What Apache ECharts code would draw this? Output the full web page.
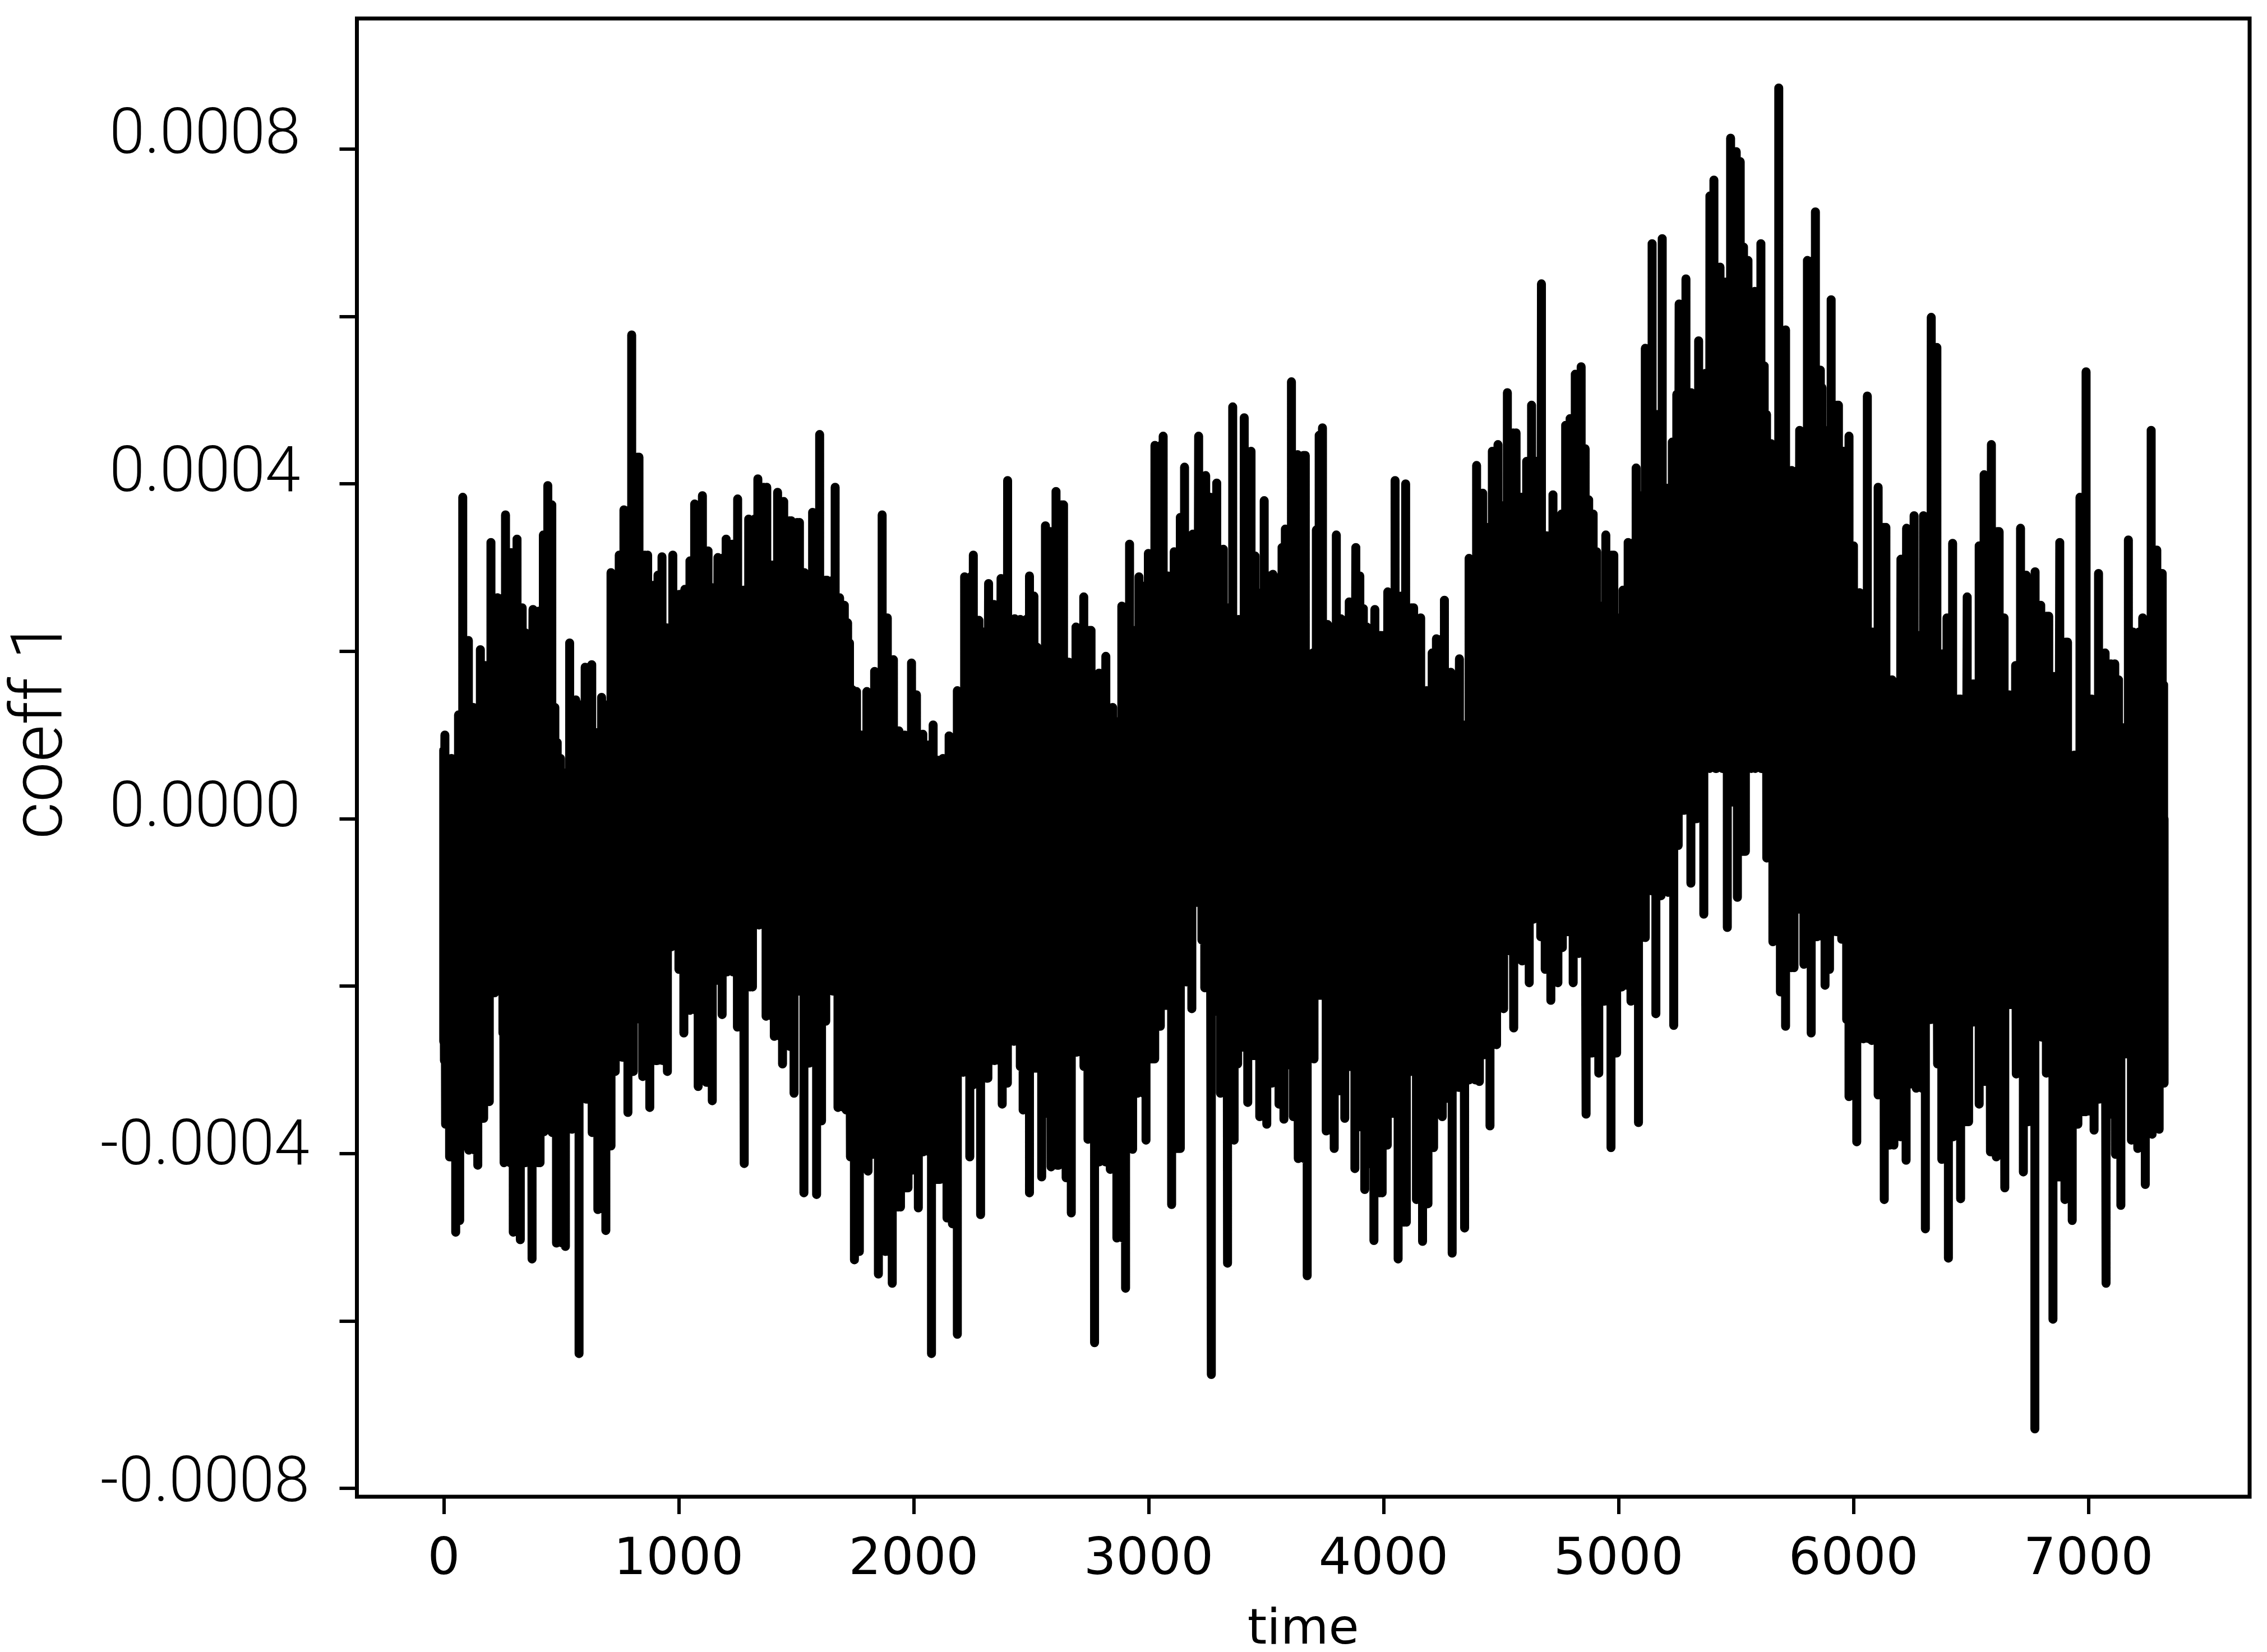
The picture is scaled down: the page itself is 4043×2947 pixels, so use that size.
<!DOCTYPE html>
<html>
<head>
<meta charset="utf-8">
<style>html,body{margin:0;padding:0;background:#fff}#chart{width:4043px;height:2947px}</style>
<script src="https://cdn.jsdelivr.net/npm/echarts@6/dist/echarts.min.js"></script>
</head>
<body>
<div id="chart"></div>
<script>
// Values. Coefficients are in units of 1e-5.
const upperTimes = [0,5,33,46,63,81,105,126,156,177,201,229,263,287,312,334,348,380,404,424,443,460,473,483,497,511,536,562,579,602,630,649,672,693,712,730,747,767,800,831,868,894,912,929,950,975,1003,1026,1048,1068,1101,1125,1145,1167,1202,1227,1251,1276,1298,1337,1375,1398,1421,1447,1479,1514,1535,1552,1570,1600,1631,1666,1685,1705,1719,1727,1740,1757,1778,1801,1834,1866,1888,1914,1937,1962,1991,2012,2039,2063,2083,2102,2125,2151,2174,
2186,2217,2254,2278,2299,2319,2342,2354,2372,2400,2430,2454,2493,2512,2525,2539,2561,2582,2606,2638,2661,2673,2691,2724,2755,2770,2789,2818,2847,2868,2886,2919,2941,2959,2981,2999,3027,3062,3083,3089,3109,3135,3153,3172,3188,3213,3243,3263,3290,3318,3334,3358,3383,3407,3436,3453,3464,3492,3513,3529,3549,3568,3582,3608,3634,3667,3683,3699,3714,3726,3740,3762,3772,3799,3818,3835,3854,3882,3899,3914,3929,3939,3963,
4000,4018,4049,4076,4094,4128,4158,4183,4207,4225,4259,4286,4298,4323,4342,4364,4396,4422,4436,4444,4463,4487,4506,4527,4564,4587,4609,4630,4651,4672,4694,4721,4742,4758,4775,4794,4816,4841,4858,4873,4892,4907,4923,4946,4980,5000,5019,5041,5075,5095,5114,
5143,5168,5186,5210,5229,5248,5258,5287,5309,5341,5370,5389,5406,5432,5454,5477,5501,5518,5532,5551,5563,5580,5606,5620,5630,5650,5682,5711,5737,5771,5804,5838,5859,5866,5881,5905,5936,5957,5981,6000,6007,6026,6059,6081,6105,6138,6164,6177,6202,6226,6258,6277,6298,6331,6355,6369,6381,6398,6422,6456,6484,6518,6535,6556,6587,6620,6641,6663,6690,6711,6735,6752,6773,6797,6831,6854,6878,6911,6940,6964,6990,7014,7043,7071,7112,7128,7143,7170,7190,7231,7252,7267,7291,7314,7320];
const upperCoeff = [8.2,10,7.2,6.1,12.4,38.4,21.3,13.3,20.2,18.3,33,26.4,36.3,31.8,33.4,25.2,22.2,25,24.8,33.9,39.8,37.5,13.3,9.1,7.2,5.5,21,14.2,13.6,18.1,18.4,10.3,14.5,13.6,29.4,25.2,31.5,36.9,57.8,43.2,31.5,27.9,29.1,31.3,22.8,31.5,26.8,27.4,30.8,37.6,38.6,32,27.6,31.2,33.4,32.8,38.2,27.3,35.8,40.6,39.6,30.3,39,37.9,35.6,35.4,29.4,27.9,36.6,45.9,28.5,39.6,26.4,25.5,23.4,21,15.4,15.2,10,15.2,17.6,36.3,24,19,10.5,10,18.6,14.8,10.1,8.8,11.2,7,7.2,9.9,7,
15.3,28.9,31.5,23.7,22.3,28.1,25.6,17.9,28.7,40.4,23.9,23.8,29,26.6,20.5,11.6,35,34.3,39.1,37.5,18.7,17.7,22.9,26.5,22.5,14.5,17.4,19.4,13.3,11.6,25.4,32.8,22.5,28.9,27.8,31.7,44.6,45.7,29,16.9,31.9,36,42,33.8,34,45.7,41,38.4,40.1,32.2,25.2,49.2,23.8,47.9,43.9,31.4,27,38,29,29.2,28.8,32.4,34.6,52.2,43.5,43.4,14.6,19.8,34.5,45.8,46.7,23.2,19.6,33.9,23.9,23.7,25.9,32.4,29,25.1,22.9,16,25,
21.9,27.1,40.4,26.6,40,25.2,24,15.3,19.8,21.5,26.1,17.5,14.1,19.1,11.2,31.1,42.2,38.9,26.3,34.8,43.9,44.7,37.4,50.9,46.1,38.4,42.7,49.4,42.7,63.9,33.8,38.7,31.9,36.4,47,47.8,53.1,54,44.2,38.1,36.4,31.9,25.4,33.9,31.5,24,27.3,33,41.9,38.6,56.2,
68.7,48.3,69.3,39.5,45,50.7,61.5,64.5,50.9,57.1,53.2,74.4,76.3,65.9,64.1,81.3,79.7,78.5,68.3,66.7,58.2,63,68.7,54.1,48.3,44.8,87.3,58.4,41.6,46.4,66.7,72.5,53.6,51.5,46.4,62,49.4,43.9,45.7,32.6,21.9,27,50.5,22.3,39.6,34.8,16.6,14.4,31,34.7,36.2,21.9,36.2,59.9,56.3,19.5,19.7,24,32.9,14.3,26.5,16.1,32.6,41.1,44.7,34.3,24,14.8,18.3,34.7,29.1,27,29.5,25.5,24.2,17,33,21.1,7.6,38.4,53.4,14.3,29.3,19.8,18.5,16.6,10.9,33.3,22.3,24,17.6,46.4,32.1,29.3,16];

const lowerTimes = [0,3,8,25,51,68,86,107,145,170,194,217,235,252,257,296,326,348,376,410,427,445,462,480,518,546,576,606,632,656,690,712,730,747,760,784,807,830,847,877,908,952,970,987,1001,1022,1048,1083,1101,1118,1143,1164,1185,1206,1250,1279,1314,1342,1372,1407,1442,1472,1491,1512,1533,1556,1587,1608,1626,1638,1656,1678,1713,1731,1748,1769,1783,1806,1827,1850,1880,1909,1944,1976,1993,2020,2041,2076,2112,2142,2165,2186,
2211,2239,2253,2285,2316,2344,2377,2399,2409,2427,2454,2466,2493,2519,2525,2545,2564,2585,2618,2640,2649,2671,2694,2710,2725,2742,2770,2791,2837,2865,2902,2932,2953,2989,3026,3050,3075,3098,3135,3160,3184,3209,3227,3239,3267,3290,3306,3336,3364,3379,3397,3422,3448,3473,3503,3525,3540,3555,3576,3599,3616,3637,3675,3704,3738,3756,3790,3813,3835,3856,3878,3902,3920,3942,3959,
3994,4016,4037,4062,4097,4116,4125,4140,4166,4189,4213,4231,4250,4272,4292,4319,4345,4365,4408,4430,4453,4481,4511,4526,4536,4554,4576,4590,4620,4639,4669,4688,4712,4742,4761,4785,4807,4831,4862,4888,4916,4941,4968,4992,5014,5035,5053,5085,5114,5138,5159,5181,5211,5235,5254,5280,5308,5333,5363,5417,5463,5485,5506,5540,5582,5631,
5657,5683,5689,5711,5747,5768,5789,5820,5845,5879,5898,5913,5926,5950,5971,5981,6014,6042,6078,6105,6131,6154,6172,6200,6224,6243,6255,6267,6306,6330,6346,6358,6376,6404,6425,6456,6490,6510,6535,6559,6583,6608,6626,6644,6666,6693,6723,6745,6772,6802,6821,6849,6875,6900,6931,6955,6989,7024,7046,7075,7097,7115,7138,7164,7183,7210,7242,7271,7301,7322];
const lowerCoeff = [-26.6,-28.9,-36.5,-40.4,-49.4,-48,-39.1,-39.6,-41.4,-35.8,-33.8,-20.8,-20,-25.6,-41.1,-49.4,-50.3,-41.1,-52.6,-41.1,-37.4,-29.2,-37.5,-50.7,-51.1,-37.1,-63.9,-33.5,-37.5,-46.7,-49.2,-39.1,-30.2,-23.6,-28.5,-35.1,-30.2,-23.9,-30.8,-34.5,-28.9,-30.2,-15.3,-10,-18,-25.6,-22.9,-32,-17,-31.5,-33.7,-19.3,-23.4,-18.3,-24.9,-41.2,-20.1,-12.7,-23.6,-26,-29.3,-27.2,-32.8,-20.6,-44.7,-29.2,-44.9,-36.1,-24.2,-13,-20.6,-34.5,-34.8,-40.4,-52.7,-51.7,-39.1,-42.1,-40.1,-54.4,-51.7,-55.5,-46.4,-44.1,-42,-46.5,-39.8,-63.9,-43.1,-47.7,-48.4,-61.6,
-30.3,-40.4,-31.8,-47.3,-31,-28.9,-34.1,-31.6,-20.8,-26.6,-29.6,-34.8,-44.7,-29.8,-28.3,-42.8,-35.2,-41.6,-41.4,-26.6,-42.9,-47.1,-27.9,-22.5,-29.6,-38.3,-62.6,-41,-41.9,-50.1,-56.1,-39.5,-32.8,-38.4,-28.7,-24.8,-22.3,-46.1,-39.4,-19.5,-22.7,-10,-14.5,-20.2,-66.4,-23,-32.8,-53.1,-38.4,-29.3,-27.3,-33.9,-28.3,-35.6,-36.5,-31.6,-30.9,-34.1,-35.9,-29.4,-35.6,-40.6,-54.6,-28.7,-21.1,-37.3,-39.4,-32.5,-35.8,-29.6,-41.8,-36.8,-44.3,-41.2,-50.4,
-44.7,-39,-35.2,-52.6,-48.2,-30.2,-28.7,-45.5,-50.5,-46,-39.3,-35.3,-35.6,-33.4,-51.9,-32.1,-48.9,-31.2,-31.4,-28.2,-36.7,-27,-22.7,-15.8,-12.2,-25,-14,-17,-19.6,-12,-14.1,-18,-21.7,-19.6,-15.4,-13.5,-19.6,-16.1,-35.3,-28,-30.4,-21.8,-39.3,-28,-20.1,-19.9,-21.8,-36.3,-14.2,-8.6,-23.3,-9.2,-8.8,-24.7,-3.2,1,-7.7,0,-11.4,6,-13,2,-9.4,-3.9,6,-4.7,
-14.7,-7.2,-20.7,-24.8,-17.8,-10.8,-17.4,-25.6,-14.1,-19.9,-18,-8.9,-13.5,-14.4,-24,-33.2,-38.6,-26.3,-26.5,-33,-45.5,-39,-39,-38,-40.8,-31.7,-21,-32.2,-49,-24,-23.4,-29.3,-40.7,-52.5,-38,-45.4,-36.2,-24.3,-34.1,-31.4,-39.8,-40.4,-31.7,-44.1,-22.2,-30.5,-42.2,-36.2,-72.9,-26.1,-30.4,-59.8,-42.8,-45.5,-48,-36.5,-35,-37.2,-33.5,-55.5,-35.3,-40.1,-46.2,-28.1,-38.4,-39.4,-43.7,-37.7,-37.1,-31.6];

// Middle of the solid band, per time span.
const bandStart = [0,5000,5300,5650];
const bandLevel = [0,5,25,0];

const xTickValues = [0,1000,2000,3000,4000,5000,6000,7000];
const yTickValues = [-0.0008,-0.0006,-0.0004,-0.0002,0,0.0002,0.0004,0.0006,0.0008];
const yLabelValues = [-0.0008,-0.0004,0,0.0004,0.0008];

const UNIT = 1e-5;
const PEN = 16;
const STEP = 30;   // time span one pen stroke covers

function bandAt(t){
  let lvl = bandLevel[0];
  for(let i=0;i<bandStart.length;i++){ if(t>=bandStart[i]) lvl = bandLevel[i]; }
  return lvl;
}
// Where two readings are further apart than a stroke, the lower one holds across the gap.
function strokes(times, vals, pick){
  const out = [];
  for(let i=0;i<times.length;i++){
    out.push([times[i], vals[i]]);
    if(i+1<times.length && times[i+1]-times[i]>STEP){
      const hold = pick(vals[i], vals[i+1]);
      for(let t=times[i]+STEP-5; t<times[i+1]; t+=STEP-5){ out.push([t, hold]); }
    }
  }
  return out;
}
const all = strokes(upperTimes, upperCoeff, Math.min)
  .concat(strokes(lowerTimes, lowerCoeff, Math.max))
  .sort((a,b)=>a[0]-b[0]);
const lineData = [];
all.forEach(([t,v])=>{
  const c = bandAt(t)*UNIT;
  lineData.push([t,c],[t,v*UNIT],[t,c]);
});

const labelLift = {'0.0008':21,'0.0004':15,'0.0000':15,'-0.0004':9,'-0.0008':5};
const liftKeys = Object.keys(labelLift);
const rich = {};
liftKeys.forEach((k,i)=>{
  rich['k'+i] = {fontFamily:'Roboto',fontWeight:300,fontSize:113,color:'#000',lineHeight:113,padding:[0,0,2*labelLift[k],0]};
});

const chart = echarts.init(document.getElementById('chart'),null,{renderer:'canvas'});
chart.setOption({
  animation:false,
  backgroundColor:'#fff',
  grid:{left:636.5,right:31,top:33,bottom:277,show:true,borderColor:'#000',borderWidth:7,backgroundColor:'#fff',containLabel:false,outerBoundsMode:'none'},
  xAxis:{
    type:'value',min:-369.5,max:7686,
    splitLine:{show:false},axisLine:{show:false,onZero:false},
    axisTick:{show:true,customValues:xTickValues,length:31,lineStyle:{color:'#000',width:6}},
    axisLabel:{customValues:xTickValues,margin:69,fontFamily:'DejaVu Sans',fontSize:91,color:'#000',formatter:function(v){return String(v);}},
    name:'time',nameLocation:'middle',nameGap:195,
    nameTextStyle:{fontFamily:'DejaVu Sans',fontSize:88,color:'#000'}
  },
  yAxis:{
    type:'value',min:-0.00081,max:0.000956,
    splitLine:{show:false},axisLine:{show:false,onZero:false},
    axisTick:{show:true,customValues:yTickValues,length:31,lineStyle:{color:'#000',width:6}},
    axisLabel:{customValues:yLabelValues,margin:271,align:'center',
      formatter:function(v){const s=v.toFixed(4);return '{k'+liftKeys.indexOf(s)+'|'+s+'}';},rich:rich},
    name:'coeff 1',nameLocation:'middle',nameGap:495,nameRotate:90,
    nameTextStyle:{fontFamily:'Roboto',fontWeight:300,fontSize:128,color:'#000',padding:[0,0,0,100]}
  },
  series:[{
    type:'line',data:lineData,showSymbol:false,symbol:'none',
    lineStyle:{color:'#000',width:PEN,cap:'round',join:'round'},
    large:false,progressive:0,silent:true,clip:true
  }]
});
</script>
</body>
</html>
